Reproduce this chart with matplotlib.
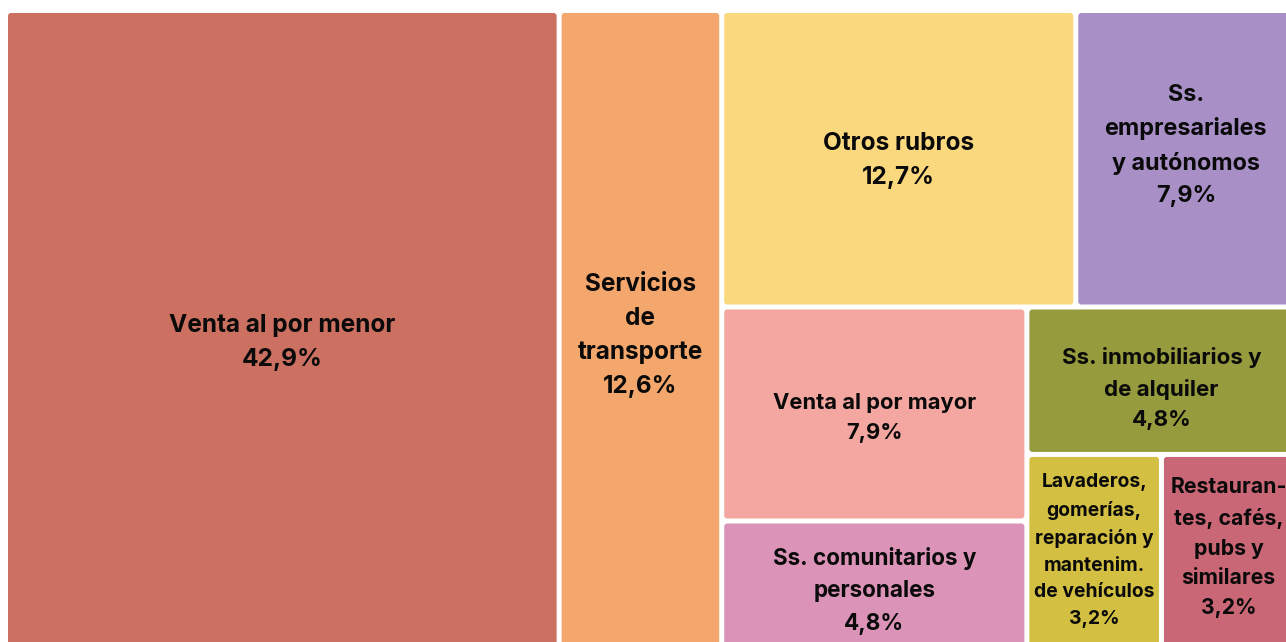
import matplotlib.pyplot as plt
from matplotlib.patches import FancyBboxPatch

plt.rcParams['font.family'] = ['Inter', 'DejaVu Sans']

labels = ['Venta al por menor', 'Servicios\nde\ntransporte', 'Otros rubros',
          'Ss.\nempresariales\ny autónomos', 'Venta al por mayor',
          'Ss. comunitarios y\npersonales', 'Ss. inmobiliarios y\nde alquiler',
          'Lavaderos,\ngomerías,\nreparación y\nmantenim.\nde vehículos',
          'Restauran-\ntes, cafés,\npubs y\nsimilares']
values = [42.9, 12.6, 12.7, 7.9, 7.9, 4.8, 4.8, 3.2, 3.2]
value_labels = ['42,9%', '12,6%', '12,7%', '7,9%', '7,9%', '4,8%', '4,8%', '3,2%', '3,2%']

colors = ['#CC7162', '#F4A76C', '#FAD87D', '#A88FC6', '#F4A7A1',
          '#DB94B7', '#969B3E', '#D3C042', '#C96776']
font_sizes = [17.6, 17.5, 17.6, 16.8, 15.8, 16.2, 16.1, 13.9, 15.3]
label_dy = [12, 5, 2, -13, 4, 5, 8, -2, -5]


def binary_treemap(vals, x0, y0, x1, y1):
    # same split rule as d3.treemapBinary
    sums = [0]
    for v in vals:
        sums.append(sums[-1] + v)
    rects = [None] * len(vals)

    def part(i, j, value, x0, y0, x1, y1):
        if i >= j - 1:
            rects[i] = (x0, y0, x1, y1)
            return
        off = sums[i]
        target = value / 2 + off
        k, hi = i + 1, j - 1
        while k < hi:
            mid = (k + hi) // 2
            if sums[mid] < target:
                k = mid + 1
            else:
                hi = mid
        if (target - sums[k - 1]) < (sums[k] - target) and i + 1 < k:
            k -= 1
        left = sums[k] - off
        right = value - left
        if (x1 - x0) > (y1 - y0):
            xk = (x0 * right + x1 * left) / value
            part(i, k, left, x0, y0, xk, y1)
            part(k, j, right, xk, y0, x1, y1)
        else:
            yk = (y0 * right + y1 * left) / value
            part(i, k, left, x0, y0, x1, yk)
            part(k, j, right, x0, yk, x1, y1)

    part(0, len(vals), sums[-1], x0, y0, x1, y1)
    return rects


fig = plt.figure(figsize=(12.86, 6.42), dpi=100)
ax = fig.add_axes([0, 0, 1, 1])
ax.set_xlim(0, 1286)
ax.set_ylim(642, 0)
ax.axis('off')

pad = 2.5
rects = binary_treemap(values, 5.5, 10.5, 1296, 651)
for (x0, y0, x1, y1), lab, vl, c, fs, dy in zip(rects, labels, value_labels, colors, font_sizes, label_dy):
    ax.add_patch(FancyBboxPatch((x0 + pad, y0 + pad), x1 - x0 - 2 * pad, y1 - y0 - 2 * pad,
                                boxstyle='round,pad=0,rounding_size=3', fc=c, ec='none'))
    ax.text((x0 + x1) / 2, (y0 + y1) / 2 + dy, lab + '\n' + vl, ha='center', va='center',
            fontsize=fs, fontweight='bold', color='#0a0a0a', linespacing=1.62)

plt.savefig('out.png', dpi=100, facecolor='white')
